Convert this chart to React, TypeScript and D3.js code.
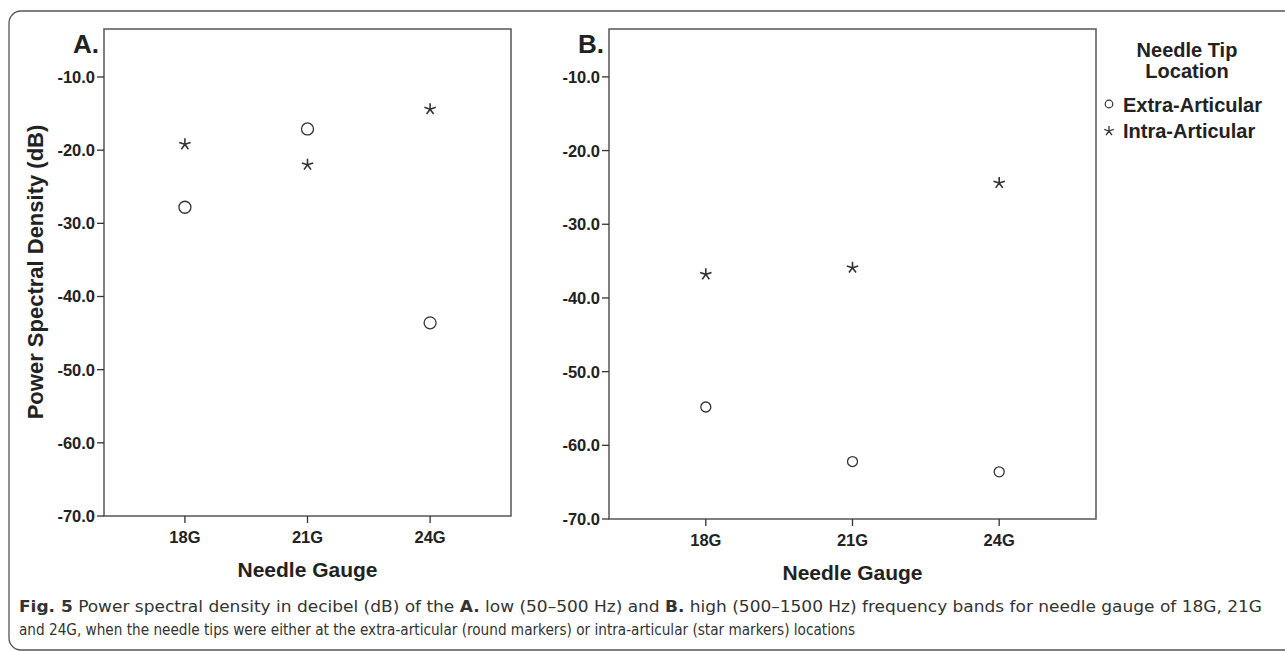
import React from "react";
import * as d3 from "d3";

// values (dB)
const categories = ["18G", "21G", "24G"];
const lowExtra = [-27.8, -17.1, -43.6];
const lowIntra = [-19.2, -22.0, -14.4];
const highExtra = [-54.8, -62.2, -63.6];
const highIntra = [-36.8, -35.9, -24.4];
const yTicks = [-10, -20, -30, -40, -50, -60, -70];

const FONT = "'Liberation Sans', Arial, Helvetica, sans-serif";
const INK = "#222";

const starPath = (r: number) => {
    // five-armed asterisk like SPSS uses
    let p = "";
    for (let i = 0; i < 5; i++) {
        const a = -Math.PI / 2 + (i * 2 * Math.PI) / 5;
        p += `M0,0L${(r * Math.cos(a)).toFixed(2)},${(r * Math.sin(a)).toFixed(2)}`;
    }
    return p;
};

type PanelProps = {
    label: string;
    left: number;
    right: number;
    top: number;
    bottom: number;
    yMax: number;
    extra: number[];
    intra: number[];
    circleR: number;
    starR: number;
};

const Panel = ({label, left, right, top, bottom, yMax, extra, intra, circleR, starR}: PanelProps) => {
    const x = d3.scalePoint<string>().domain(categories).range([left, right]).padding(0.66);
    const y = d3.scaleLinear().domain([-70, yMax]).range([bottom, top]);

    return (
        <g fontFamily={FONT} fill={INK}>
            <rect x={left} y={top} width={right - left} height={bottom - top}
                  fill="white" stroke="#555" strokeWidth={1.5}/>
            {/* y axis */}
            {yTicks.map(t => (
                <g key={t}>
                    <line x1={left - 7} x2={left} y1={y(t)} y2={y(t)} stroke="#333" strokeWidth={1.3}/>
                    <text x={left - 9} y={y(t)} dy="0.36em" textAnchor="end" fontSize={16.5}
                          fontWeight="bold">{t.toFixed(1)}</text>
                </g>
            ))}
            {/* x axis */}
            {categories.map(c => (
                <g key={c}>
                    <line x1={x(c)} x2={x(c)} y1={bottom} y2={bottom + 7} stroke="#333" strokeWidth={1.3}/>
                    <text x={x(c)} y={bottom + 27} textAnchor="middle" fontSize={16.5}
                          fontWeight="bold">{c}</text>
                </g>
            ))}
            <text x={x(categories[1])} y={bottom + 61}
                  textAnchor="middle" fontSize={21} fontWeight="bold">Needle Gauge</text>
            <text x={left - 5} y={top + 24} textAnchor="end" fontSize={26} fontWeight="bold">{label}</text>
            {/* markers */}
            {extra.map((v, i) => (
                <circle key={"e" + i} cx={x(categories[i])} cy={y(v)} r={circleR}
                        fill="none" stroke="#333" strokeWidth={1.3}/>
            ))}
            {intra.map((v, i) => (
                <path key={"s" + i} d={starPath(starR)}
                      transform={`translate(${x(categories[i])},${y(v)})`}
                      stroke="#333" strokeWidth={1.6} fill="none"/>
            ))}
        </g>
    );
};

const App = () => {
    const W = 1285;
    const H = 651;
    return (
        <svg width={W} height={H} style={{position: "absolute", left: 0, top: 0, background: "white"}}>
            <rect x={9} y={11} width={W + 20} height={H - 12} rx={12} fill="white" stroke="#555" strokeWidth={1.3}/>

            <Panel label="A." left={104} right={511} top={29} bottom={516} yMax={-3.44}
                   extra={lowExtra} intra={lowIntra} circleR={6} starR={6}/>
            <Panel label="B." left={609} right={1096} top={29} bottom={519} yMax={-3.5}
                   extra={highExtra} intra={highIntra} circleR={5} starR={6}/>

            <text transform="translate(43,272) rotate(-90)" textAnchor="middle" fontFamily={FONT}
                  fontSize={22} fontWeight="bold" fill={INK}>Power Spectral Density (dB)</text>

            {/* legend */}
            <g fontFamily={FONT} fontWeight="bold" fill={INK} fontSize={20}>
                <text x={1187} y={57} textAnchor="middle">Needle Tip</text>
                <text x={1187} y={78} textAnchor="middle">Location</text>
                <circle cx={1109} cy={104} r={3.8} fill="none" stroke="#333" strokeWidth={1.2}/>
                <text x={1123} y={112}>Extra-Articular</text>
                <path d={starPath(5)} transform="translate(1109,131)" stroke="#333" strokeWidth={1.3} fill="none"/>
                <text x={1123} y={138}>Intra-Articular</text>
            </g>

            {/* caption */}
            <g fontFamily="'Liberation Sans Narrow', 'DejaVu Sans Condensed', sans-serif" fontSize={16} fill="#333">
                <text x={19} y={612} textLength={1243} lengthAdjust="spacingAndGlyphs">
                    <tspan fontWeight="bold">Fig. 5</tspan>
                    {"  Power spectral density in decibel (dB) of the "}
                    <tspan fontWeight="bold">A.</tspan>
                    {" low (50–500 Hz) and "}
                    <tspan fontWeight="bold">B.</tspan>
                    {" high (500–1500 Hz) frequency bands for needle gauge of 18G, 21G"}
                </text>
                <text x={19} y={635} textLength={836} lengthAdjust="spacingAndGlyphs">
                    and 24G, when the needle tips were either at the extra-articular (round markers) or intra-articular (star markers) locations
                </text>
            </g>
        </svg>
    );
};

export default App;
